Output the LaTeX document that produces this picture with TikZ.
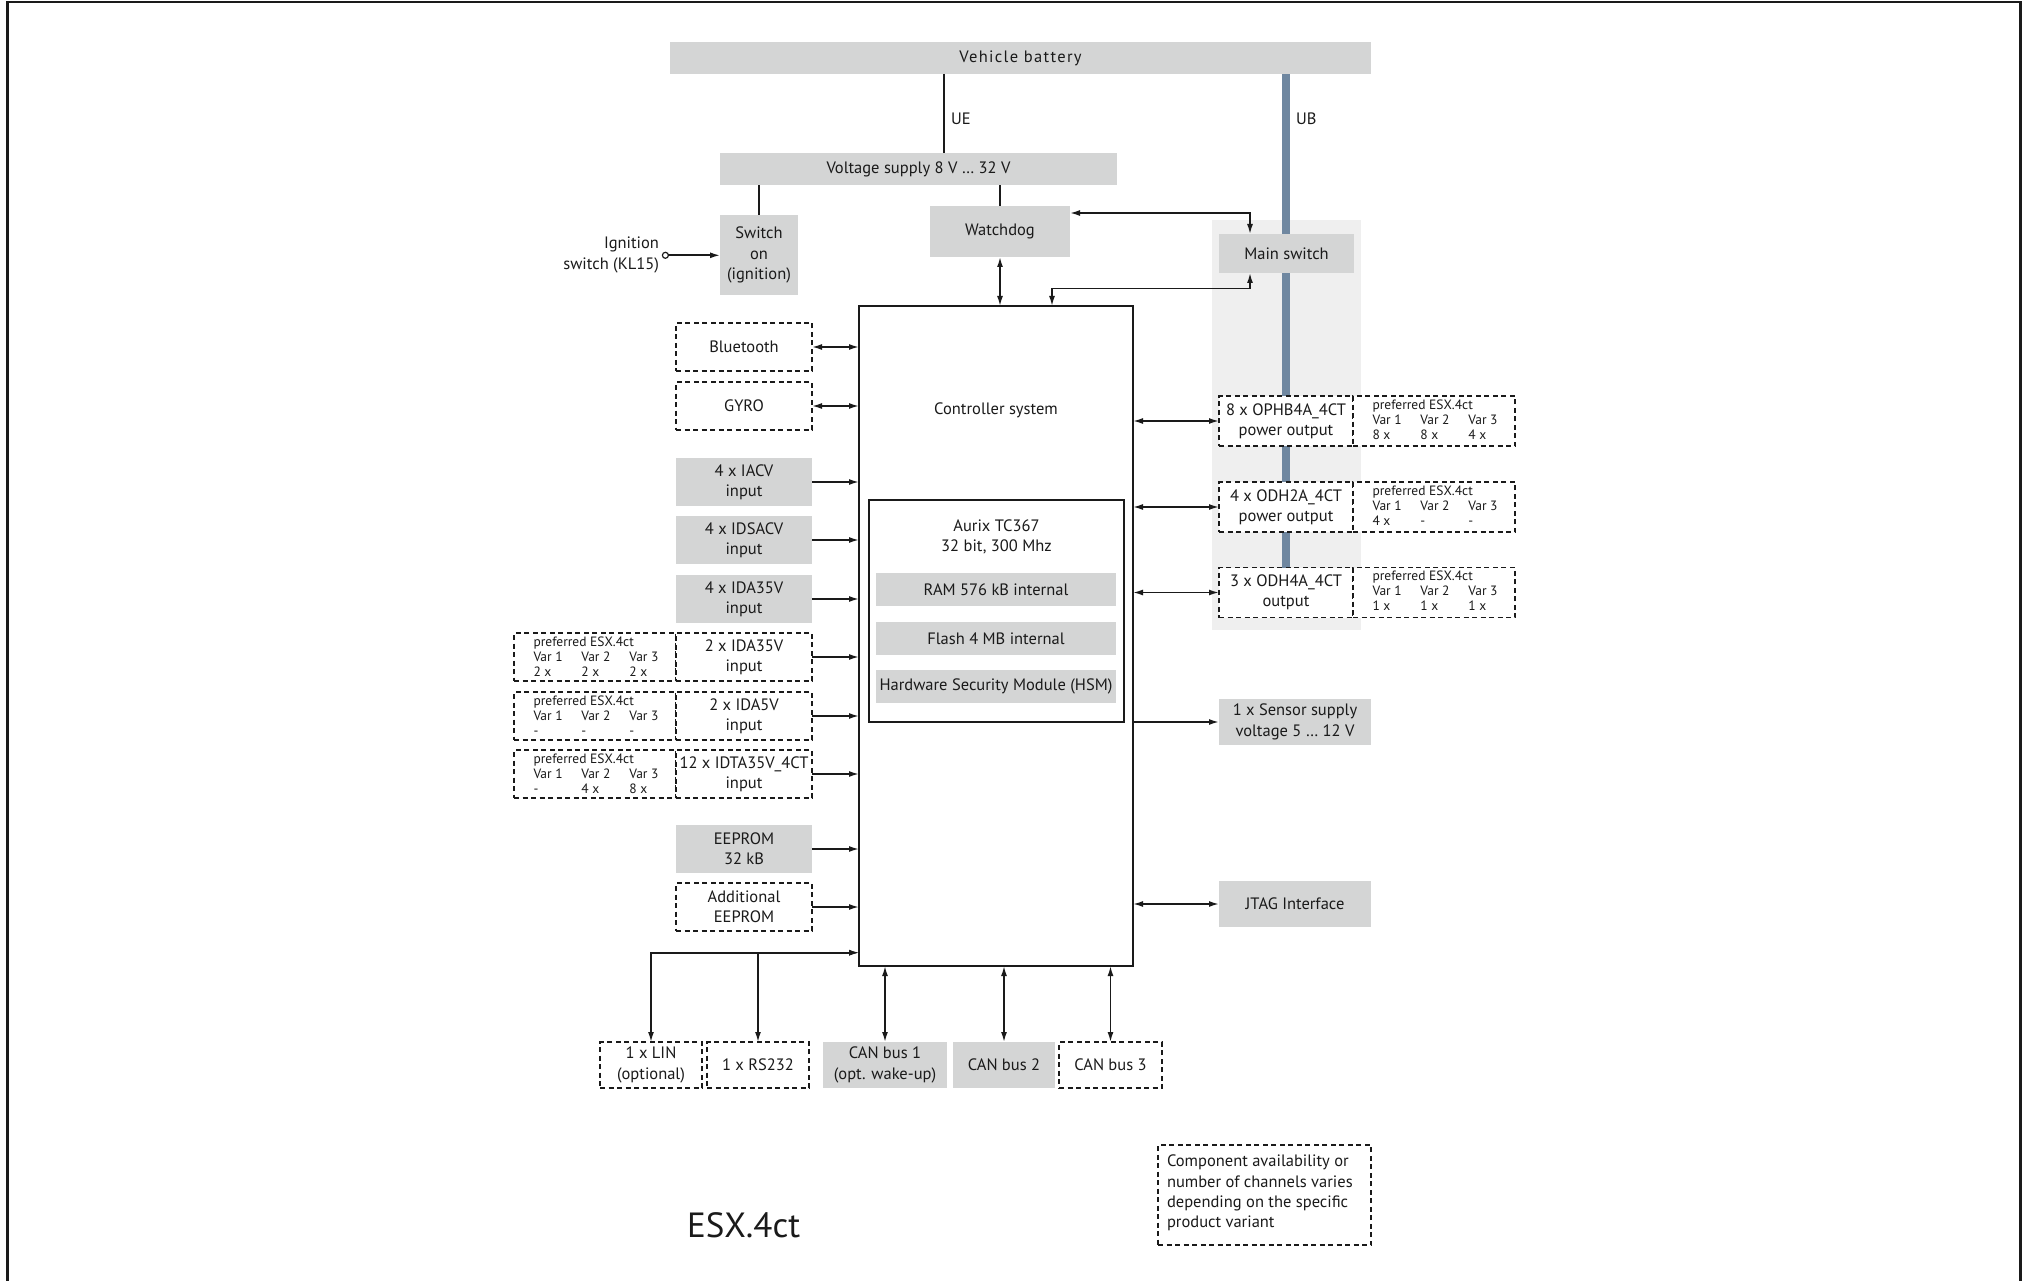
\documentclass[tikz,border=0pt]{standalone}
\usepackage{fontspec}
\setmainfont{PT Sans}
\usetikzlibrary{arrows.meta,calc,backgrounds}
\definecolor{boxgray}{HTML}{D4D5D5}
\definecolor{zonegray}{HTML}{EFEFEF}
\definecolor{ubblue}{HTML}{6F87A0}
\definecolor{ink}{HTML}{1A1A1A}
\newcommand\lbl{\fontsize{16.5}{20.3}\selectfont}
\newcommand\smalltxt{\fontsize{13.5}{15.3}\selectfont}
\tikzset{
  every node/.style={font=\lbl, text=ink, inner sep=0pt, outer sep=0pt},
  graybox/.style={fill=boxgray, draw=none, align=center},
  dashbox/.style={draw=ink, fill=white, dash pattern=on 5pt off 3.5pt, line width=1.6pt, align=center},
  conn/.style={draw=ink, line width=1.6pt},
  toarr/.style={conn, -{Latex[length=10pt,width=6pt]}},
  biarr/.style={conn, {Latex[length=10pt,width=6pt]}-{Latex[length=10pt,width=6pt]}},
  preftxt/.style={anchor=base west, font=\smalltxt},
}
\newcommand\PrefBox[7]{%
  \node[dashbox, anchor=north west, minimum width=162pt, minimum height=#4pt] (#1) at (#2,#3) {};
  \node[preftxt] (#1-h) at ($(#2,#3)+(19.5,13)$) {preferred ESX.4ct};
  \node[preftxt] (#1-va) at ($(#2,#3)+(19.5,28.3)$) {Var 1};
  \node[preftxt] (#1-vb) at ($(#2,#3)+(67.3,28.3)$) {Var 2};
  \node[preftxt] (#1-vc) at ($(#2,#3)+(115.3,28.3)$) {Var 3};
  \node[preftxt] (#1-na) at ($(#2,#3)+(19.5,43.3)$) {#5};
  \node[preftxt] (#1-nb) at ($(#2,#3)+(67.3,43.3)$) {#6};
  \node[preftxt] (#1-nc) at ($(#2,#3)+(115.3,43.3)$) {#7};
}
\begin{document}
\begin{tikzpicture}[x=1pt,y=-1pt]
\useasboundingbox (0,0) rectangle (2022,1281);
% frame
\draw[line width=2.2pt, draw=ink] (7.5,1281) -- (7.5,2) -- (2020.5,2) -- (2020.5,1281);

% top
\node[graybox, minimum width=701pt, minimum height=32pt] (battery) at (1020.5,58) {\addfontfeature{LetterSpace=8}Vehicle battery};
\node[graybox, minimum width=397pt, minimum height=32pt] (vs) at (918.5,169) {Voltage supply 8 V … 32 V};
\node[graybox, minimum width=78pt, minimum height=80pt] (sw) at (759,255) {Switch\\on\\(ignition)};
\node[graybox, minimum width=140pt, minimum height=51pt] (wd) at (1000,231.5) {Watchdog};
\node[graybox, minimum width=135pt, minimum height=39pt] (mainsw) at (1286.5,253.5) {Main switch};

% controller
\node[draw=ink, line width=2pt, fill=white, minimum width=274pt, minimum height=660pt] (ctrl) at (996,636) {};
\node (ctrllbl) at (996,410) {Controller system};
\node[draw=ink, line width=1.6pt, minimum width=255pt, minimum height=222pt] (aurix) at (996.5,611) {};
\node[align=center] (aurixlbl) at (996.5,536.7) {Aurix TC367\\32 bit, 300 Mhz};
\node[graybox, minimum width=240pt, minimum height=32.5pt] (ram) at (996,589.5) {RAM 576 kB internal};
\node[graybox, minimum width=240pt, minimum height=32.5pt] (flash) at (996,638.3) {Flash 4 MB internal};
\node[graybox, minimum width=240pt, minimum height=32.5pt] (hsm) at (996,686.3) {Hardware Security Module (HSM)};

% left column
\node[dashbox, minimum width=136pt, minimum height=48pt] (bt) at (744,347) {Bluetooth};
\node[dashbox, minimum width=136pt, minimum height=48pt] (gyro) at (744,406) {GYRO};
\node[graybox, minimum width=136pt, minimum height=48pt] (iacv) at (744,482) {4 x IACV\\input};
\node[graybox, minimum width=136pt, minimum height=48pt] (idsacv) at (744,540) {4 x IDSACV\\input};
\node[graybox, minimum width=136pt, minimum height=48pt] (idafour) at (744,599) {4 x IDA35V\\input};
\PrefBox{pidatwo}{514}{633}{48}{2 x}{2 x}{2 x}
\node[dashbox, minimum width=136pt, minimum height=48pt] (idatwo) at (744,657) {2 x IDA35V\\input};
\PrefBox{pidafive}{514}{692}{48}{-}{-}{-}
\node[dashbox, minimum width=136pt, minimum height=48pt] (idafive) at (744,716) {2 x IDA5V\\input};
\PrefBox{pidta}{514}{750}{48}{-}{4 x}{8 x}
\node[dashbox, minimum width=136pt, minimum height=48pt] (idta) at (744,774) {12 x IDTA35V\_4CT\\input};
\node[graybox, minimum width=136pt, minimum height=48pt] (eeprom) at (744,849) {EEPROM\\32 kB};
\node[dashbox, minimum width=136pt, minimum height=48pt] (addeeprom) at (744,907) {Additional\\EEPROM};

% bottom row
\node[dashbox, minimum width=102pt, minimum height=46pt] (lin) at (651,1065) {1 x LIN\\(optional)};
\node[dashbox, minimum width=102pt, minimum height=46pt] (rs) at (758,1065) {1 x RS232};
\node[graybox, minimum width=124pt, minimum height=46pt] (canone) at (885,1065) {CAN bus 1\\(opt. wake-up)};
\node[graybox, minimum width=102pt, minimum height=46pt] (cantwo) at (1004,1065) {CAN bus 2};
\node[dashbox, minimum width=103pt, minimum height=46pt] (canthree) at (1110.5,1065) {CAN bus 3};

% right column
\node[dashbox, minimum width=134pt, minimum height=50pt] (ophb) at (1286,421) {8 x OPHB4A\_4CT\\power output};
\PrefBox{pophb}{1353}{396}{50}{8 x}{8 x}{4 x}
\node[dashbox, minimum width=134pt, minimum height=50pt] (odhtwo) at (1286,507) {4 x ODH2A\_4CT\\power output};
\PrefBox{podhtwo}{1353}{482}{50}{4 x}{-}{-}
\node[dashbox, minimum width=134pt, minimum height=50pt] (odhfour) at (1286,592.5) {3 x ODH4A\_4CT\\output};
\PrefBox{podhfour}{1353}{567.5}{50}{1 x}{1 x}{1 x}
\node[graybox, minimum width=152pt, minimum height=46pt] (sensor) at (1295,722) {1 x Sensor supply\\voltage 5 … 12 V};
\node[graybox, minimum width=152pt, minimum height=46pt] (jtag) at (1295,904) {JTAG Interface};

% note and title
\node[dashbox, minimum width=213pt, minimum height=100pt] (note) at (1264.5,1195) {};
\node[anchor=west, align=left] (notetxt) at (1167,1193) {Component availability or\\number of channels varies\\depending on the specific\\product variant};
\node[anchor=base west, font=\fontsize{35}{38}\selectfont] (title) at (687,1237) {ESX.4ct};

% background zone and UB line
\begin{scope}[on background layer]
  \node[fill=zonegray, anchor=north west, minimum width=149pt, minimum height=410pt] (zone) at (1212,220) {};
  \draw[ubblue, line width=8pt] (odhfour.north |- battery.south) -- (odhfour.north);
\end{scope}
\node[anchor=west] (ub) at (1296,118.6) {UB};

% supply connections
\coordinate (uex) at (944,0);
\draw[conn] (uex |- battery.south) -- (uex |- vs.north);
\node[anchor=west] (ue) at (951,118.6) {UE};
\draw[conn] (sw.north) -- (sw.north |- vs.south);
\draw[conn] (wd.north) -- (wd.north |- vs.south);

% ignition
\node[circle, draw=ink, fill=white, line width=1.2pt, minimum size=6pt] (ign) at (665.4,255.3) {};
\node[anchor=east, align=right] (ignlbl) at (659,255) {Ignition\\switch (KL15)};
\draw[toarr] (ign.east) -- (ign.east -| sw.west);

% watchdog / main switch / controller
\coordinate (wdms) at (1250,213);
\coordinate (cms) at (1052,288.5);
\draw[biarr] (wd.east |- wdms) -| (wdms |- mainsw.north);
\draw[biarr] (cms |- ctrl.north) -- (cms) -| (wdms |- mainsw.south);
\draw[biarr] (wd.south) -- (wd.south |- ctrl.north);

% left connectors
\draw[biarr] (bt.east) -- (bt.east -| ctrl.west);
\draw[biarr] (gyro.east) -- (gyro.east -| ctrl.west);
\draw[toarr] (iacv.east) -- (iacv.east -| ctrl.west);
\draw[toarr] (idsacv.east) -- (idsacv.east -| ctrl.west);
\draw[toarr] (idafour.east) -- (idafour.east -| ctrl.west);
\draw[toarr] (idatwo.east) -- (idatwo.east -| ctrl.west);
\draw[toarr] (idafive.east) -- (idafive.east -| ctrl.west);
\draw[toarr] (idta.east) -- (idta.east -| ctrl.west);
\draw[toarr] (eeprom.east) -- (eeprom.east -| ctrl.west);
\draw[toarr] (addeeprom.east) -- (addeeprom.east -| ctrl.west);

% bus
\coordinate (busy) at (0,952.7);
\draw[biarr] (lin.north) |- (busy -| ctrl.west);
\draw[biarr] (rs.north) |- (busy -| ctrl.west);
\draw[biarr] (canone.north) -- (canone.north |- ctrl.south);
\draw[biarr] (cantwo.north) -- (cantwo.north |- ctrl.south);
\draw[biarr] (canthree.north) -- (canthree.north |- ctrl.south);

% right connectors
\draw[biarr] (ophb.west -| ctrl.east) -- (ophb.west);
\draw[biarr] (odhtwo.west -| ctrl.east) -- (odhtwo.west);
\draw[biarr] (odhfour.west -| ctrl.east) -- (odhfour.west);
\draw[toarr] (sensor.west -| ctrl.east) -- (sensor.west);
\draw[biarr] (jtag.west -| ctrl.east) -- (jtag.west);
\end{tikzpicture}
\end{document}
